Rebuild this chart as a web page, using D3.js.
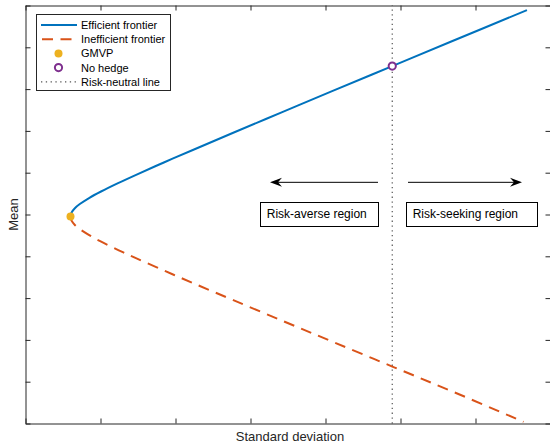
<!DOCTYPE html>
<html>
<head>
<meta charset="utf-8">
<script src="https://cdn.jsdelivr.net/npm/d3@7"></script>
<style>
  html, body { margin: 0; padding: 0; background: #fff; }
  svg { display: block; font-family: "Liberation Sans", Arial, Helvetica, sans-serif; }
</style>
</head>
<body>
<svg id="chart" width="550" height="443"></svg>
<script>
// Axis ticks (unlabelled, as in the original figure)
const xTicks = [0, 1, 2, 3, 4, 5, 6, 7];
const yTicks = [0, 1, 2, 3, 4, 5, 6, 7, 8, 9, 10];

// Efficient frontier: standard deviation / mean pairs
const efficientSd   = [0.600, 0.604, 0.615, 0.658, 0.724, 0.853, 1.007, 1.234, 1.475, 1.852, 2.239, 2.762, 3.423, 4.088, 4.890, 5.693, 6.686];
const efficientMean = [4.95, 5.00, 5.05, 5.15, 5.25, 5.40, 5.55, 5.75, 5.95, 6.25, 6.55, 6.95, 7.45, 7.95, 8.55, 9.15, 9.89];

// Inefficient frontier: standard deviation / mean pairs
const inefficientSd   = [0.600, 0.604, 0.615, 0.658, 0.724, 0.855, 1.009, 1.237, 1.480, 1.858, 2.246, 2.771, 3.435, 4.102, 4.907, 5.713, 6.640];
const inefficientMean = [4.95, 4.90, 4.85, 4.75, 4.65, 4.50, 4.35, 4.15, 3.95, 3.65, 3.35, 2.95, 2.45, 1.95, 1.35, 0.75, 0.04];

// Special portfolios
const gmvp = [0.60, 4.95];       // global minimum-variance portfolio
const noHedge = [4.89, 8.55];    // unhedged position; risk-neutral line passes through it

// Region annotations (data coordinates)
const regionArrows = [
  { from: [4.70, 5.77], to: [3.26, 5.77] },
  { from: [5.10, 5.77], to: [6.62, 5.77] }
];
const regionBoxes = [
  { label: "Risk-averse region",  x0: 3.13, x1: 4.70, yTop: 5.31, yBottom: 4.74 },
  { label: "Risk-seeking region", x0: 5.075, x1: 6.82, yTop: 5.31, yBottom: 4.74 }
];

const legendLabels = ["Efficient frontier", "Inefficient frontier", "GMVP", "No hedge", "Risk-neutral line"];

const colors = {
  efficient: "#0072BD",
  inefficient: "#D95319",
  gmvp: "#EDB120",
  noHedge: "#7E2F8E",
  neutral: "#555555",
  axis: "#262626"
};

const svg = d3.select("#chart");
const x = d3.scaleLinear().domain([0, 7]).range([25.5, 550.5]);
const y = d3.scaleLinear().domain([0, 10]).range([423.5, 5.5]);

const line = d3.line()
  .x(d => x(d[0]))
  .y(d => y(d[1]))
  .curve(d3.curveCatmullRom);

const effPts = efficientSd.map((s, i) => [s, efficientMean[i]]);
const ineffPts = inefficientSd.map((s, i) => [s, inefficientMean[i]]);

const plot = svg.append("g");

// Risk-neutral line
plot.append("line")
  .attr("x1", x(noHedge[0])).attr("x2", x(noHedge[0]))
  .attr("y1", y(0)).attr("y2", y(10))
  .attr("stroke", colors.neutral)
  .attr("stroke-width", 1.2)
  .attr("stroke-dasharray", "1.3,3.5");

// Frontiers
plot.append("path")
  .datum(ineffPts)
  .attr("d", line)
  .attr("fill", "none")
  .attr("stroke", colors.inefficient)
  .attr("stroke-width", 2)
  .attr("stroke-dasharray", "11,7.5");

plot.append("path")
  .datum(effPts)
  .attr("d", line)
  .attr("fill", "none")
  .attr("stroke", colors.efficient)
  .attr("stroke-width", 2);

// Markers
plot.append("circle")
  .attr("cx", x(gmvp[0])).attr("cy", y(gmvp[1]))
  .attr("r", 4)
  .attr("fill", colors.gmvp);

plot.append("circle")
  .attr("cx", x(noHedge[0])).attr("cy", y(noHedge[1]))
  .attr("r", 3.6)
  .attr("fill", "#fff")
  .attr("stroke", colors.noHedge)
  .attr("stroke-width", 2);

// Arrows with swept-back heads
function arrowHead(tip, dir) {
  const [tx, ty] = tip;
  const len = 12, half = 4.5, notch = 8;
  return `M${tx},${ty} L${tx - dir * len},${ty - half} L${tx - dir * notch},${ty} L${tx - dir * len},${ty + half} Z`;
}
regionArrows.forEach(a => {
  const x1 = x(a.from[0]), y1 = y(a.from[1]);
  const x2 = x(a.to[0]), y2 = y(a.to[1]);
  const dir = Math.sign(x2 - x1);
  plot.append("line")
    .attr("x1", x1).attr("y1", y1)
    .attr("x2", x2 - dir * 8).attr("y2", y2)
    .attr("stroke", "#000").attr("stroke-width", 1);
  plot.append("path")
    .attr("d", arrowHead([x2, y2], dir))
    .attr("fill", "#000");
});

// Region text boxes
regionBoxes.forEach(b => {
  const bx = x(b.x0), by = y(b.yTop);
  const bw = x(b.x1) - bx, bh = y(b.yBottom) - by;
  plot.append("rect")
    .attr("x", Math.round(bx) + 0.5).attr("y", Math.round(by) + 0.5)
    .attr("width", Math.round(bw)).attr("height", Math.round(bh))
    .attr("fill", "#fff").attr("stroke", "#000").attr("stroke-width", 1);
  plot.append("text")
    .attr("x", bx + 6.5)
    .attr("y", by + bh / 2 + 4.3)
    .attr("font-size", 12)
    .attr("fill", "#000")
    .text(b.label);
});

// Axes: inward ticks on all four sides, no labels
const tick = 5;
svg.append("g").attr("transform", `translate(0,${y(0)})`)
  .call(d3.axisBottom(x).tickValues(xTicks).tickFormat("").tickSizeInner(-tick).tickSizeOuter(0));
svg.append("g").attr("transform", `translate(0,${y(10)})`)
  .call(d3.axisTop(x).tickValues(xTicks).tickFormat("").tickSizeInner(-tick).tickSizeOuter(0));
svg.append("g").attr("transform", `translate(${x(0)},0)`)
  .call(d3.axisLeft(y).tickValues(yTicks).tickFormat("").tickSizeInner(-tick).tickSizeOuter(0));
svg.append("g").attr("transform", `translate(${x(7)},0)`)
  .call(d3.axisRight(y).tickValues(yTicks).tickFormat("").tickSizeInner(-tick).tickSizeOuter(0));
svg.selectAll(".domain").attr("stroke", colors.axis);
svg.selectAll(".tick line").attr("stroke", colors.axis);

// Axis titles
svg.append("text")
  .attr("x", (x(0) + x(7)) / 2 + 2)
  .attr("y", 441)
  .attr("text-anchor", "middle")
  .attr("font-size", 13)
  .attr("fill", colors.axis)
  .text("Standard deviation");

svg.append("text")
  .attr("transform", `translate(17.5,${y(5)}) rotate(-90)`)
  .attr("text-anchor", "middle")
  .attr("font-size", 13)
  .attr("fill", colors.axis)
  .text("Mean");

// Legend
const legend = svg.append("g");
legend.append("rect")
  .attr("x", 36.5).attr("y", 14.5)
  .attr("width", 134).attr("height", 76)
  .attr("fill", "#fff").attr("stroke", colors.axis).attr("stroke-width", 1);

const rowY = i => 25 + i * 14.2;
const sampleX0 = 41, sampleX1 = 77, markerX = 58.5, textX = 81;

legend.append("line")
  .attr("x1", sampleX0).attr("x2", sampleX1).attr("y1", rowY(0)).attr("y2", rowY(0))
  .attr("stroke", colors.efficient).attr("stroke-width", 2);
legend.append("line")
  .attr("x1", sampleX0).attr("x2", sampleX1).attr("y1", rowY(1)).attr("y2", rowY(1))
  .attr("stroke", colors.inefficient).attr("stroke-width", 2)
  .attr("stroke-dasharray", "11,7.5").attr("stroke-dashoffset", -1);
legend.append("circle")
  .attr("cx", markerX).attr("cy", rowY(2)).attr("r", 4)
  .attr("fill", colors.gmvp);
legend.append("circle")
  .attr("cx", markerX).attr("cy", rowY(3)).attr("r", 3.6)
  .attr("fill", "#fff").attr("stroke", colors.noHedge).attr("stroke-width", 2);
legend.append("line")
  .attr("x1", sampleX0).attr("x2", sampleX1).attr("y1", rowY(4)).attr("y2", rowY(4))
  .attr("stroke", colors.neutral).attr("stroke-width", 1.2)
  .attr("stroke-dasharray", "1.3,3.5");

legend.selectAll("text.lbl")
  .data(legendLabels)
  .enter().append("text")
  .attr("class", "lbl")
  .attr("x", textX)
  .attr("y", (d, i) => rowY(i) + 4)
  .attr("font-size", 11)
  .attr("fill", "#000")
  .text(d => d);
</script>
</body>
</html>
